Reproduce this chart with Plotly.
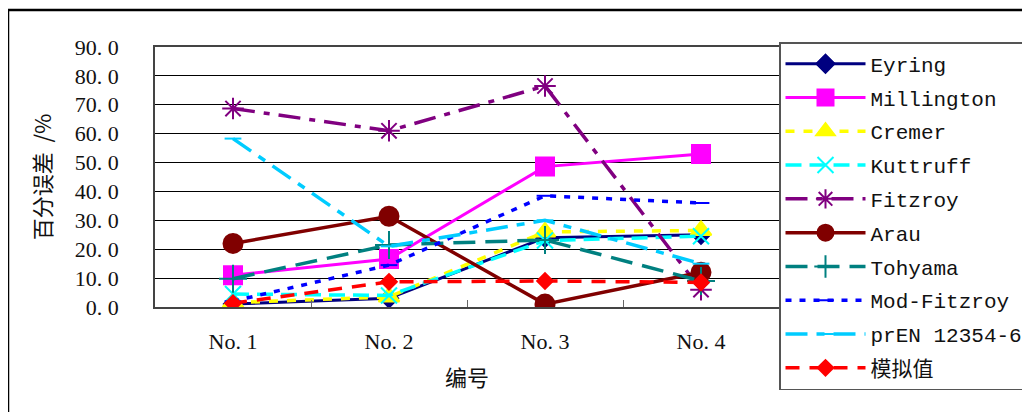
import plotly.graph_objects as go

categories = ["No. 1", "No. 2", "No. 3", "No. 4"]
y_tick_vals = [0, 10, 20, 30, 40, 50, 60, 70, 80, 90]
y_tick_text = ["0. 0", "10. 0", "20. 0", "30. 0", "40. 0", "50. 0", "60. 0", "70. 0", "80. 0", "90. 0"]

eyring = [1.0, 3.0, 24.0, 25.0]
millington = [11.0, 16.6, 48.6, 53.0]
cremer = [1.5, 3.5, 26.0, 26.5]
kuttruff = [4.5, 4.0, 23.0, 24.5]
fitzroy = [68.7, 61.0, 76.5, 6.0]
arau = [22.0, 31.4, 1.0, 12.0]
tohyama = [9.8, 21.5, 23.2, 9.0]
mod_fitzroy = [2.0, 14.5, 38.5, 36.0]
pren = [58.3, 21.0, 30.0, 15.0]
simulated = [1.3, 8.7, 9.0, 8.5]

series = [
    ("Eyring", eyring, "#000080", "solid", 3, "diamond", 14),
    ("Millington", millington, "#FF00FF", "solid", 3, "square", 18),
    ("Cremer", cremer, "#FFFF00", "9px,9px", 3.5, "triangle-up", 18),
    ("Kuttruff", kuttruff, "#00FFFF", "16px,8px", 3.5, "x-thin-open", 16),
    ("Fitzroy", fitzroy, "#800080", "22px,9px,6px,9px", 3.5, "asterisk-open", 18),
    ("Arau", arau, "#800000", "solid", 3.5, "circle", 19),
    ("Tohyama", tohyama, "#008080", "22px,10px", 3.5, "cross-thin-open", 20),
    ("Mod-Fitzroy", mod_fitzroy, "#0000FF", "6px,8px", 3.5, "line-ew-open", 12),
    ("prEN 12354-6", pren, "#00CCFF", "22px,9px,8px,9px", 3.5, "line-ew-open", 12),
    ("模拟值", simulated, "#FF0000", "14px,10px", 3.5, "diamond", 12),
]

fig = go.Figure()
for i, (name, vals, color, dash, width, symbol, size) in enumerate(series):
    fig.add_trace(go.Scatter(
        x=categories, y=vals, name=name, mode="lines+markers",
        legendgroup="g%d" % i,
        line=dict(color=color, dash=dash, width=width),
        marker=dict(symbol=symbol, size=size, color=color,
                    line=dict(color=color, width=2)),
    ))

font_family = "Liberation Serif, Noto Sans CJK SC, serif"

# page body has an 8px default margin, so the figure sits at (8, 8)
fig.update_layout(
    width=1030, height=412,
    margin=dict(l=147, r=259, t=39, b=113, autoexpand=False),
    paper_bgcolor="white", plot_bgcolor="white",
    font=dict(family=font_family, size=22, color="#111111"),
    showlegend=True,
    legend=dict(
        x=1.0, xanchor="left", y=(307 - 42) / 260, yanchor="top",
        bordercolor="#555555", borderwidth=1.5, bgcolor="white",
        font=dict(family="Liberation Mono, Noto Sans CJK SC, monospace", size=21, color="#111111"),
        tracegroupgap=3.5, itemwidth=80, maxheight=1.0,
    ),
    xaxis=dict(
        type="category", range=[-0.5, 3.5],
        showline=True, linecolor="#444444", linewidth=1.5, mirror=True,
        ticks="inside", tickson="boundaries", ticklen=7, tickcolor="#666666",
        showgrid=False, ticklabelstandoff=14,
        tickfont=dict(size=22),
        title=dict(text="编号", font=dict(size=22, family="Noto Sans CJK SC"), standoff=17),
    ),
    yaxis=dict(
        range=[0, 90], tickvals=y_tick_vals, ticktext=y_tick_text,
        showline=True, linecolor="#444444", linewidth=1.5, mirror=True,
        showgrid=True, gridcolor="#000000", gridwidth=1,
        ticks="", ticklabelstandoff=30, zeroline=False,
        tickfont=dict(size=22),
        title=dict(text="百分误差  /%", font=dict(size=22, family="Noto Sans CJK SC"), standoff=17),
    ),
    shapes=[dict(
        type="rect", xref="paper", yref="paper",
        x0=(8 - 155) / 624, x1=2.0, y0=-2.0, y1=(307 - 10) / 260,
        line=dict(color="#000000", width=2.5), fillcolor="rgba(0,0,0,0)", layer="below",
    )],
)

fig.write_html("out.html")
